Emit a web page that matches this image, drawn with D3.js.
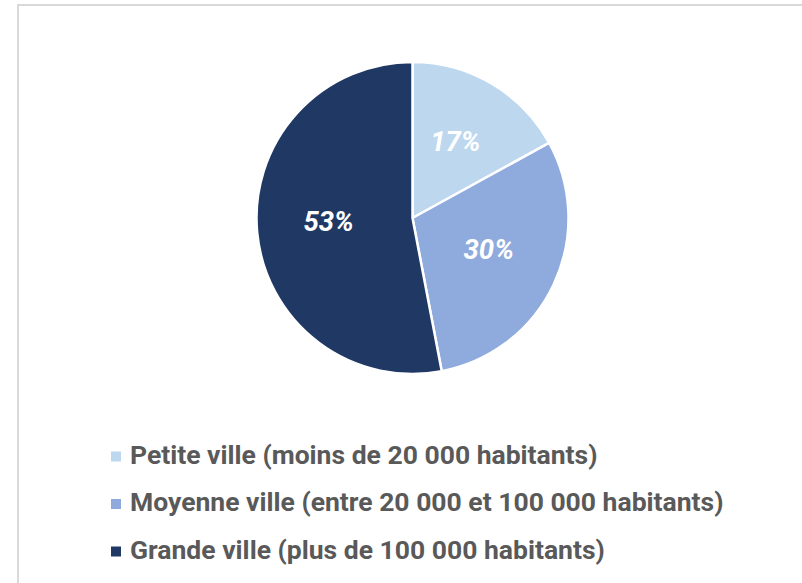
<!DOCTYPE html>
<html>
<head>
<meta charset="utf-8">
<script src="https://cdn.jsdelivr.net/npm/d3@7"></script>
<style>
  html, body { margin: 0; padding: 0; background: #fff; }
  svg { display: block; }
</style>
</head>
<body>
<svg id="chart" width="802" height="583"></svg>
<script>
const categories = [
  "Petite ville (moins de 20 000 habitants)",
  "Moyenne ville (entre 20 000 et 100 000 habitants)",
  "Grande ville (plus de 100 000 habitants)"
];
const values = [17, 30, 53];
const labels = ["17%", "30%", "53%"];
const colors = ["#BDD7EE", "#8FAADC", "#1F3864"];

const svg = d3.select("#chart");

// frame border (top and left visible)
svg.append("line").attr("x1", 18).attr("y1", 5).attr("x2", 802).attr("y2", 5)
  .attr("stroke", "#d9d9d9").attr("stroke-width", 2);
svg.append("line").attr("x1", 18).attr("y1", 4).attr("x2", 18).attr("y2", 583)
  .attr("stroke", "#d9d9d9").attr("stroke-width", 2);

const cx = 412.5, cy = 218, r = 156;

const pie = d3.pie().sort(null).value(d => d);
const arcs = pie(values);
const arc = d3.arc().innerRadius(0).outerRadius(r);
const labelArc = d3.arc().innerRadius(r * 0.54).outerRadius(r * 0.54);

const g = svg.append("g").attr("transform", `translate(${cx},${cy})`);
g.selectAll("path.slice").data(arcs).join("path")
  .attr("class", "slice")
  .attr("d", arc)
  .attr("fill", (d, i) => colors[i])
  .attr("stroke", "#fff")
  .attr("stroke-width", 2.5)
  .attr("stroke-linejoin", "round");

g.selectAll("text.lbl").data(arcs).join("text")
  .attr("class", "lbl")
  .attr("transform", d => `translate(${labelArc.centroid(d)})`)
  .attr("text-anchor", "middle")
  .attr("dy", "0.2em")
  .attr("font-family", "Roboto, sans-serif")
  .attr("font-weight", "bold")
  .attr("font-style", "italic")
  .attr("font-size", 27.5)
  .attr("fill", "#fff")
  .text((d, i) => labels[i]);

// legend
const legendY = d3.scalePoint().domain(categories).range([463.5, 558.5]);
const lg = svg.append("g");
const items = lg.selectAll("g.item").data(categories).join("g").attr("class", "item");
items.append("rect")
  .attr("x", 111).attr("y", d => legendY(d) - 12)
  .attr("width", 10).attr("height", 10)
  .attr("fill", (d, i) => colors[i]);
items.append("text")
  .attr("x", 130).attr("y", d => legendY(d))
  .attr("font-family", "Roboto, sans-serif")
  .attr("font-weight", "bold")
  .attr("font-size", 26.5)
  .attr("fill", "#595959")
  .text(d => d);
</script>
</body>
</html>
